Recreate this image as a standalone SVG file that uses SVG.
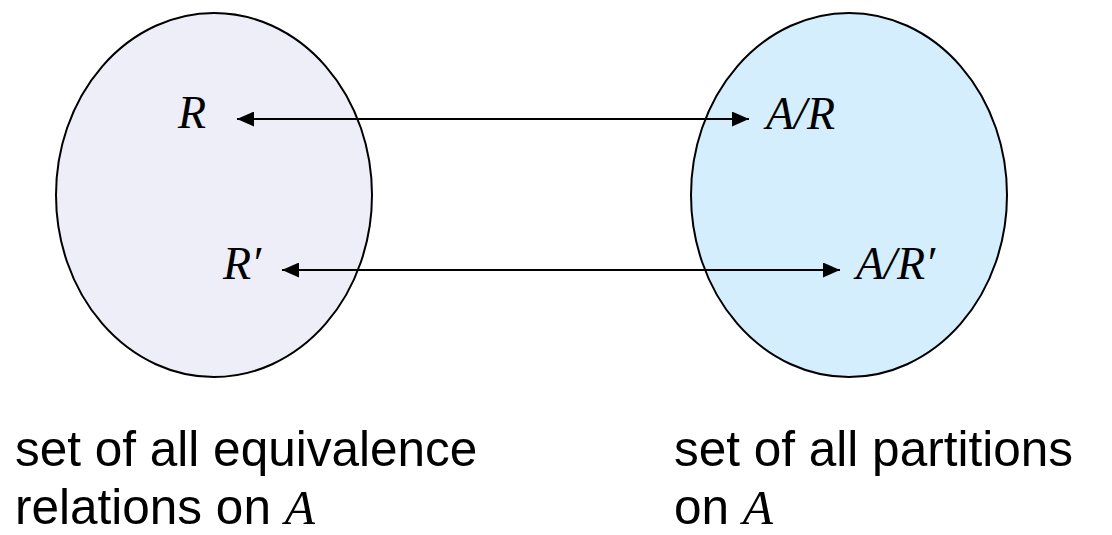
<svg xmlns="http://www.w3.org/2000/svg" width="1112" height="535" viewBox="0 0 1112 535">
<style>
.math{font-family:"Liberation Serif","Times New Roman",serif;font-style:italic;font-size:46px;fill:#000}
.lbl{font-family:"Liberation Sans",Arial,sans-serif;font-size:49.5px;fill:#000}
.lbl .m{font-family:"Liberation Serif","Times New Roman",serif;font-style:italic}
.set{stroke:#000;stroke-width:2}
.conn{stroke:#000;stroke-width:2;fill:none;marker-start:url(#ah);marker-end:url(#ah)}
</style>
<defs>
<marker id="ah" viewBox="0 0 17 15" refX="17" refY="7.5" markerWidth="17" markerHeight="15" markerUnits="userSpaceOnUse" orient="auto-start-reverse">
<path d="M0,0 L17,7.5 L0,15 Z" fill="#000"/>
</marker>
</defs>
<rect width="1112" height="535" fill="#fff"/>
<g id="set-relations">
<ellipse class="set" cx="214" cy="195" rx="158" ry="182" fill="#EEEEF8"/>
</g>
<g id="set-partitions">
<ellipse class="set" cx="849" cy="195" rx="158" ry="182" fill="#D4EEFD"/>
</g>
<g id="connectors">
<line class="conn" x1="237" y1="119" x2="749" y2="119"/>
<line class="conn" x1="282" y1="270" x2="840" y2="270"/>
</g>
<g id="node-R"><text class="math" x="178" y="128">R</text></g>
<g id="node-AR"><text class="math" x="766" y="129">A/R</text></g>
<g id="node-Rp"><text class="math" x="223" y="279">R′</text></g>
<g id="node-ARp"><text class="math" x="856" y="279">A/R′</text></g>
<g id="label-left">
<text class="lbl" x="15" y="466">set of all equivalence</text>
<text class="lbl" x="15" y="524">relations on <tspan class="m">A</tspan></text>
</g>
<g id="label-right">
<text class="lbl" x="674" y="466">set of all partitions</text>
<text class="lbl" x="674" y="524">on <tspan class="m">A</tspan></text>
</g>
</svg>
